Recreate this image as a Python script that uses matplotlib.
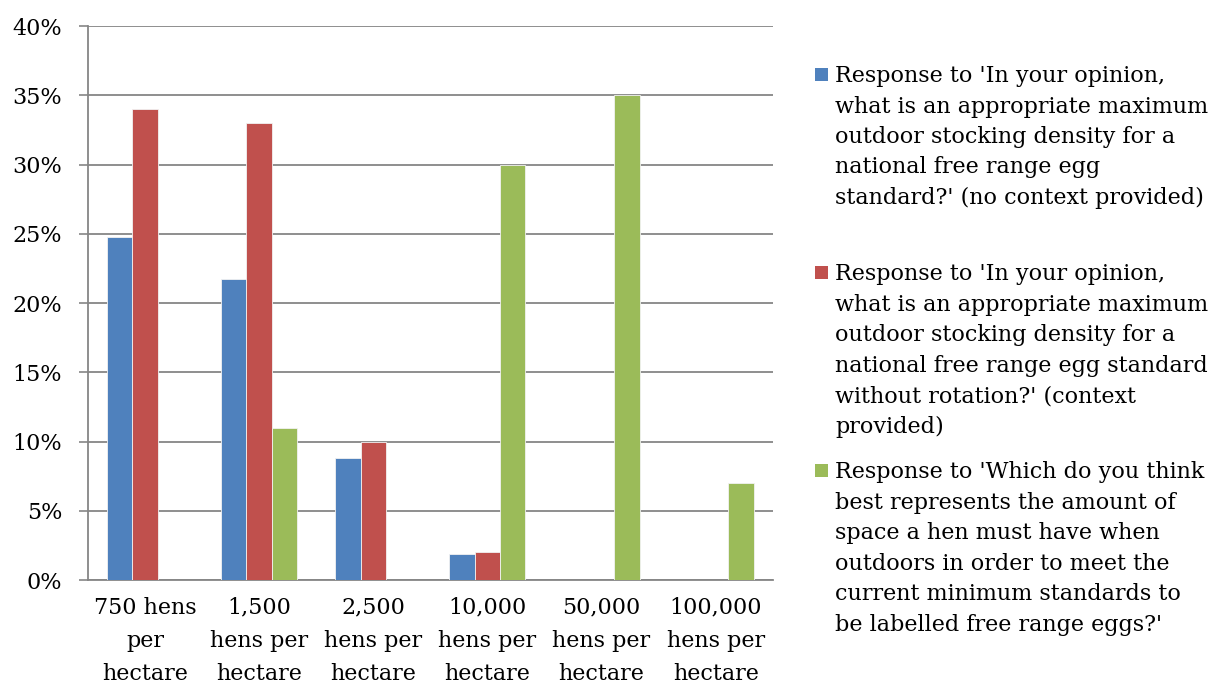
import matplotlib.pyplot as plt
from matplotlib.patches import Rectangle
import numpy as np

# Data (percent)
categories = ["750 hens\nper\nhectare", "1,500\nhens per\nhectare", "2,500\nhens per\nhectare",
              "10,000\nhens per\nhectare", "50,000\nhens per\nhectare", "100,000\nhens per\nhectare"]
no_context = [24.8, 21.7, 8.8, 1.9, 0, 0]
with_context = [34, 33, 10, 2, 0, 0]
minimum_std = [0, 11, 0, 30, 35, 7]

labels = [
    "Response to 'In your opinion,\nwhat is an appropriate maximum\noutdoor stocking density for a\nnational free range egg\nstandard?' (no context provided)",
    "Response to 'In your opinion,\nwhat is an appropriate maximum\noutdoor stocking density for a\nnational free range egg standard\nwithout rotation?' (context\nprovided)",
    "Response to 'Which do you think\nbest represents the amount of\nspace a hen must have when\noutdoors in order to meet the\ncurrent minimum standards to\nbe labelled free range eggs?'",
]
colors = ["#4F81BD", "#C0504D", "#9BBB59"]

plt.rcParams['font.family'] = ['DejaVu Serif']
FS = 16

fig = plt.figure(figsize=(12.15, 6.86), dpi=100)
ax = fig.add_axes([0.0724, 0.1545, 0.5636, 0.8075])

x = np.arange(len(categories))
w = 0.222
series = [no_context, with_context, minimum_std]
for i, (vals, c) in enumerate(zip(series, colors)):
    ax.bar(x + (i - 1) * w, vals, width=w, color=c, edgecolor="#f2f2f2", linewidth=0.6, zorder=3)

ax.set_xlim(-0.5, len(categories) - 0.5)
ax.set_ylim(0, 40)
ax.set_yticks(range(0, 41, 5))
ax.set_yticklabels([f"{v}%" for v in range(0, 41, 5)], fontsize=FS)
ax.set_xticks(x)
ax.set_xticklabels(categories, fontsize=FS, linespacing=1.65)
ax.tick_params(axis='x', length=0, pad=12)
ax.tick_params(axis='y', length=6.5, width=1.2, color="#868686", pad=12)
ax.grid(axis='y', color="#868686", linewidth=1.3, zorder=0)
for s in ["top", "right"]:
    ax.spines[s].set_visible(False)
for s in ["left", "bottom"]:
    ax.spines[s].set_color("#868686")
    ax.spines[s].set_linewidth(1.3)
ax.spines["left"].set_zorder(4)

# legend, drawn by hand so the marker sits on the first line
W, H = 1215, 686
tops = [65, 263, 461]
for lab, c, t in zip(labels, colors, tops):
    fig.text(835 / W, 1 - t / H, lab, fontsize=FS, va='top', ha='left', linespacing=1.5)
    fig.patches.append(Rectangle((815 / W, 1 - (t + 16) / H), 13 / W, 13 / H,
                                 transform=fig.transFigure, facecolor=c, edgecolor='none'))

fig.savefig("out.png", dpi=100)
